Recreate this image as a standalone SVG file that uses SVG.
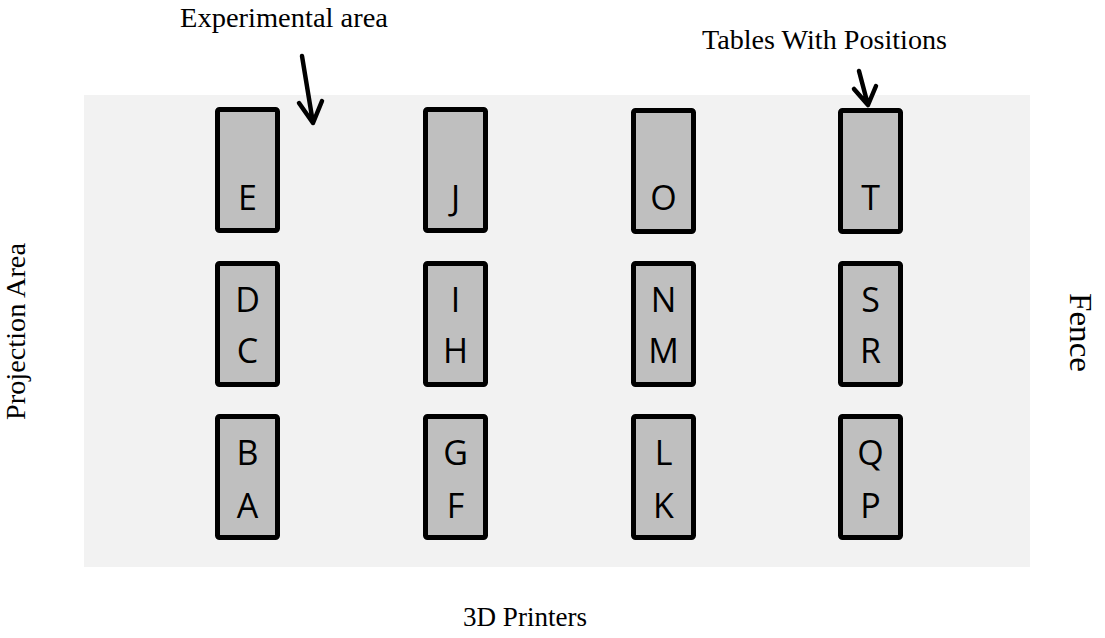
<svg xmlns="http://www.w3.org/2000/svg" width="1105" height="638" viewBox="0 0 1105 638">
  <defs>
    <style>
      .floor { fill: #f2f2f2; }
      .table rect { fill: #bfbfbf; stroke: #000; stroke-width: 5; }
      .table text { font-family: "Open Sans", "Liberation Sans", sans-serif; font-size: 34px; fill: #000; text-anchor: middle; }
      .label { font-family: "Liberation Serif", "Times New Roman", serif; font-size: 27px; fill: #000; }
      .pointer { fill: none; stroke: #000; stroke-width: 4.5; stroke-linecap: round; stroke-linejoin: round; }
    </style>
  </defs>

  <!-- room floor -->
  <rect class="floor" x="84" y="95" width="946" height="472"/>

  <!-- surrounding labels -->
  <text id="label-experimental" class="label" x="180" y="27" textLength="208" lengthAdjust="spacingAndGlyphs">Experimental area</text>
  <text id="label-tables" class="label" x="702" y="49" textLength="245" lengthAdjust="spacingAndGlyphs">Tables With Positions</text>
  <text id="label-printers" class="label" x="463" y="626" textLength="124" lengthAdjust="spacingAndGlyphs">3D Printers</text>
  <text id="label-projection" class="label" transform="translate(25 420) rotate(-90)" x="0" y="0" textLength="177" lengthAdjust="spacingAndGlyphs">Projection Area</text>
  <text id="label-fence" class="label" style="font-size:32px" transform="translate(1070 293) rotate(90)" x="0" y="0" textLength="79" lengthAdjust="spacingAndGlyphs">Fence</text>

  <!-- tables, column 1 -->
  <g id="table-E" class="table"><rect x="217.5" y="109.5" width="60" height="121" rx="2"/><text x="247.5" y="210">E</text></g>
  <g id="table-DC" class="table"><rect x="217.5" y="263.5" width="60" height="121" rx="2"/><text x="247.5" y="312">D</text><text x="247.5" y="363">C</text></g>
  <g id="table-BA" class="table"><rect x="217.5" y="416.5" width="60" height="121" rx="2"/><text x="247.5" y="465">B</text><text x="247.5" y="518">A</text></g>

  <!-- tables, column 2 -->
  <g id="table-J" class="table"><rect x="425.5" y="109.5" width="60" height="121" rx="2"/><text x="455.5" y="210">J</text></g>
  <g id="table-IH" class="table"><rect x="425.5" y="263.5" width="60" height="121" rx="2"/><text x="455.5" y="312">I</text><text x="455.5" y="363">H</text></g>
  <g id="table-GF" class="table"><rect x="425.5" y="416.5" width="60" height="121" rx="2"/><text x="455.5" y="465">G</text><text x="455.5" y="518">F</text></g>

  <!-- tables, column 3 -->
  <g id="table-O" class="table"><rect x="633.5" y="110.5" width="60" height="121" rx="2"/><text x="663.5" y="210">O</text></g>
  <g id="table-NM" class="table"><rect x="633.5" y="263.5" width="60" height="121" rx="2"/><text x="663.5" y="312">N</text><text x="663.5" y="363">M</text></g>
  <g id="table-LK" class="table"><rect x="633.5" y="416.5" width="60" height="121" rx="2"/><text x="663.5" y="465">L</text><text x="663.5" y="518">K</text></g>

  <!-- tables, column 4 -->
  <g id="table-T" class="table"><rect x="840.5" y="110.5" width="60" height="121" rx="2"/><text x="870.5" y="210">T</text></g>
  <g id="table-SR" class="table"><rect x="840.5" y="263.5" width="60" height="121" rx="2"/><text x="870.5" y="312">S</text><text x="870.5" y="363">R</text></g>
  <g id="table-QP" class="table"><rect x="840.5" y="416.5" width="60" height="121" rx="2"/><text x="870.5" y="465">Q</text><text x="870.5" y="518">P</text></g>

  <!-- pointer arrows -->
  <g id="connectors">
    <path class="pointer" d="M302 56 L313 123 M299 103 L313 123 L322 101"/>
    <path class="pointer" d="M859 71 L868 105 M854 89 L868 105 L876 86"/>
  </g>
</svg>
